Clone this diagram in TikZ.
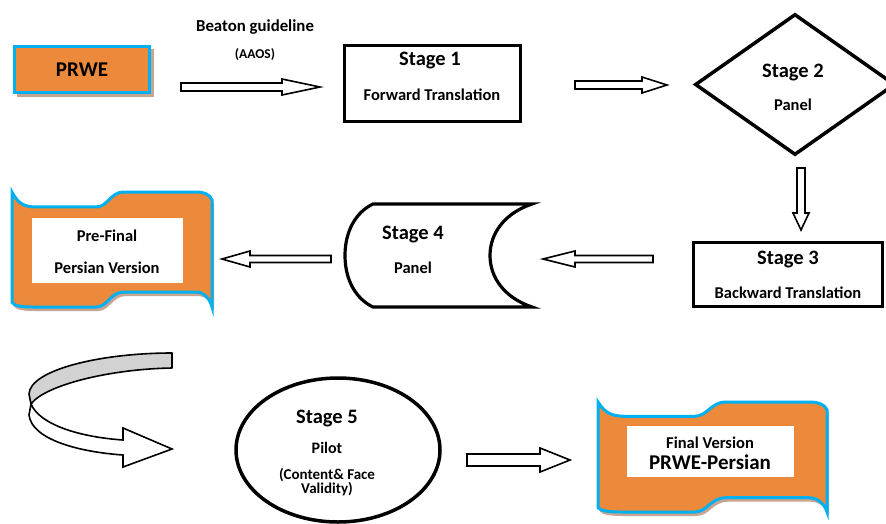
\documentclass[tikz,border=0pt]{standalone}
\usepackage{fontspec}
\setmainfont{Carlito}
\usetikzlibrary{calc,shapes.geometric}
\definecolor{orng}{RGB}{237,137,58}
\definecolor{sky}{RGB}{0,176,240}
\definecolor{tanshadow}{RGB}{200,165,145}
\definecolor{bandgrey}{RGB}{210,210,210}
\tikzset{
  txt/.style={inner sep=0pt, anchor=center},
  stg/.style={txt, font=\bfseries\fontsize{20.5}{22}\selectfont},
  sub/.style={txt, font=\bfseries\fontsize{16.5}{18}\selectfont},
  small/.style={txt, font=\bfseries\fontsize{15}{15}\selectfont},
  stagebox/.style={draw=black, line width=3.2pt, fill=white, rectangle, inner sep=0pt},
  blockarrow/.style={draw=black, line width=1.6pt, fill=white, line join=miter},
  banner/.style={fill=orng, draw=sky, line width=3pt},
  bannershadow/.style={fill=tanshadow},
  whitebox/.style={fill=white, draw=none},
}
% block arrow from #1 to #2: shaft half width #3, head half width #4, head length #5
\newcommand\blockarr[5]{%
  \coordinate (bhb) at ($(#2)!#5!(#1)$);
  \draw[blockarrow] ($(#1)!#3!90:(#2)$) -- ($(bhb)!#3!90:(#2)$) -- ($(bhb)!#4!90:(#2)$)
     -- (#2) -- ($(bhb)!#4!-90:(#2)$) -- ($(bhb)!#3!-90:(#2)$) -- ($(#1)!#3!-90:(#2)$) -- cycle;}
% wave banner path in unit square
\newcommand\wavepath{(0,0) .. controls (0.03,0.1) and (0.06,0.13) .. (0.12,0.13) -- (0.42,0.13)
  .. controls (0.48,0.13) and (0.49,0) .. (0.56,0) -- (0.92,0) .. controls (0.96,0) and (0.99,0.02) .. (1,0.07)
  -- (1,1) .. controls (0.99,0.93) and (0.96,0.87) .. (0.92,0.87) -- (0.56,0.87)
  .. controls (0.49,0.87) and (0.48,1) .. (0.42,1) -- (0.1,1) .. controls (0.05,1) and (0.01,0.99) .. (0,0.96) -- cycle}
\begin{document}
\begin{tikzpicture}[x=1pt,y=-1pt]
\useasboundingbox (0,0) rectangle (886,523);
\clip (0,0) rectangle (886,523);
\fill[white] (0,0) rectangle (886,523);

% PRWE
\fill[tanshadow] (17,49) rectangle (154,97);
\node[rectangle, fill=orng, draw=sky, line width=3pt, minimum width=135pt, minimum height=46pt, inner sep=0pt,
      font=\bfseries\fontsize{21}{22}\selectfont] (prwe) at (82,69.5) {PRWE};

\node[txt, font=\bfseries\fontsize{16.8}{18}\selectfont] (beaton) at (255,27) {Beaton guideline};
\node[txt, font=\bfseries\fontsize{13.5}{14}\selectfont] (aaos) at (255,55) {(AAOS)};

% Stage 1
\node[stagebox, minimum width=176pt, minimum height=76pt] (s1) at (432.5,83.5) {};
\node[stg] (s1t) at (430,61) {Stage 1};
\node[sub] (s1s) at (432,95) {Forward Translation};

% Stage 2
\node[diamond, draw=black, fill=white, line width=3.5pt, minimum width=200pt, minimum height=141pt, inner sep=0pt] (s2) at (795,84.5) {};
\node[stg] (s2t) at (793,73) {Stage 2};
\node[sub] (s2s) at (793,105) {Panel};

% Stage 3
\node[stagebox, minimum width=189pt, minimum height=64pt] (s3) at (788,274.5) {};
\node[stg] (s3t) at (788,260) {Stage 3};
\node[sub] (s3s) at (788,293) {Backward Translation};

% Stage 4
\draw[line width=3.2pt, fill=white] (373,204) -- (532,204) .. controls (505,213) and (490,233) .. (490,255.5)
   .. controls (490,278) and (505,298) .. (532,307) -- (373,307) .. controls (356,299) and (345,280) .. (345,255.5)
   .. controls (345,231) and (356,212) .. (373,204) -- cycle;
\coordinate (s4) at (418,255);
\node[stg] (s4t) at (413,235) {Stage 4};
\node[sub] (s4s) at (413,268) {Panel};

% Pre-final banner
\begin{scope}[shift={(14,196)}, xscale=200, yscale=115]
  \fill[bannershadow] \wavepath;
\end{scope}
\begin{scope}[shift={(12,192)}, xscale=200, yscale=115]
  \filldraw[banner] \wavepath;
\end{scope}
\fill[whitebox] (32,218) rectangle (183,283);
\node[sub] (pf1) at (107,236) {Pre-Final};
\node[sub] (pf2) at (107,268) {Persian Version};

% Stage 5
\node[ellipse, draw=black, fill=white, line width=3.5pt, minimum width=204pt, minimum height=144pt, inner sep=0pt] (s5) at (338,450) {};
\node[stg] (s5t) at (327,419) {Stage 5};
\node[txt, font=\bfseries\fontsize{16}{16}\selectfont] (s5s) at (327,448) {Pilot};
\node[small] (s5c) at (327,475) {(Content\& Face};
\node[small] (s5v) at (327,489) {Validity)};

% Final banner
\begin{scope}[shift={(600,406)}, xscale=229, yscale=110]
  \fill[bannershadow] \wavepath;
\end{scope}
\begin{scope}[shift={(598,402)}, xscale=229, yscale=110]
  \filldraw[banner] \wavepath;
\end{scope}
\fill[whitebox] (627,426) rectangle (794,477);
\node[sub] (fv1) at (710,443) {Final Version};
\node[txt, font=\bfseries\fontsize{21}{22}\selectfont] (fv2) at (710,462) {PRWE-Persian};

% block arrows
\coordinate (a1s) at (181,87);  \coordinate (a1e) at (320,87);
\coordinate (a2s) at (575,85);  \coordinate (a2e) at (667,85);
\coordinate (a3s) at (801,168); \coordinate (a3e) at (801,230);
\coordinate (a4s) at (653,259); \coordinate (a4e) at (543,259);
\coordinate (a5s) at (331,259); \coordinate (a5e) at (222,259);
\coordinate (a6s) at (467,460); \coordinate (a6e) at (570,460);
\blockarr{a1s}{a1e}{4pt}{8pt}{38pt}
\blockarr{a2s}{a2e}{4pt}{8pt}{25pt}
\blockarr{a3s}{a3e}{4pt}{8pt}{17pt}
\blockarr{a4s}{a4e}{3.5pt}{8pt}{32pt}
\blockarr{a5s}{a5e}{3.5pt}{8pt}{28pt}
\blockarr{a6s}{a6e}{6pt}{12pt}{30pt}

% curved ribbon arrow
\filldraw[fill=bandgrey, draw=black, line width=1.6pt, line join=round]
  (172,353) .. controls (100,353) and (30,370) .. (29,394) -- (31,404)
  .. controls (45,385) and (110,369) .. (172,368) -- cycle;
\filldraw[fill=white, draw=black, line width=1.6pt, line join=miter]
  (31,404) .. controls (40,425) and (80,437) .. (123,440) -- (123,428) -- (172,449) -- (123,467) -- (123,455)
  .. controls (80,452) and (32,440) .. (29,415) -- cycle;
\end{tikzpicture}
\end{document}
